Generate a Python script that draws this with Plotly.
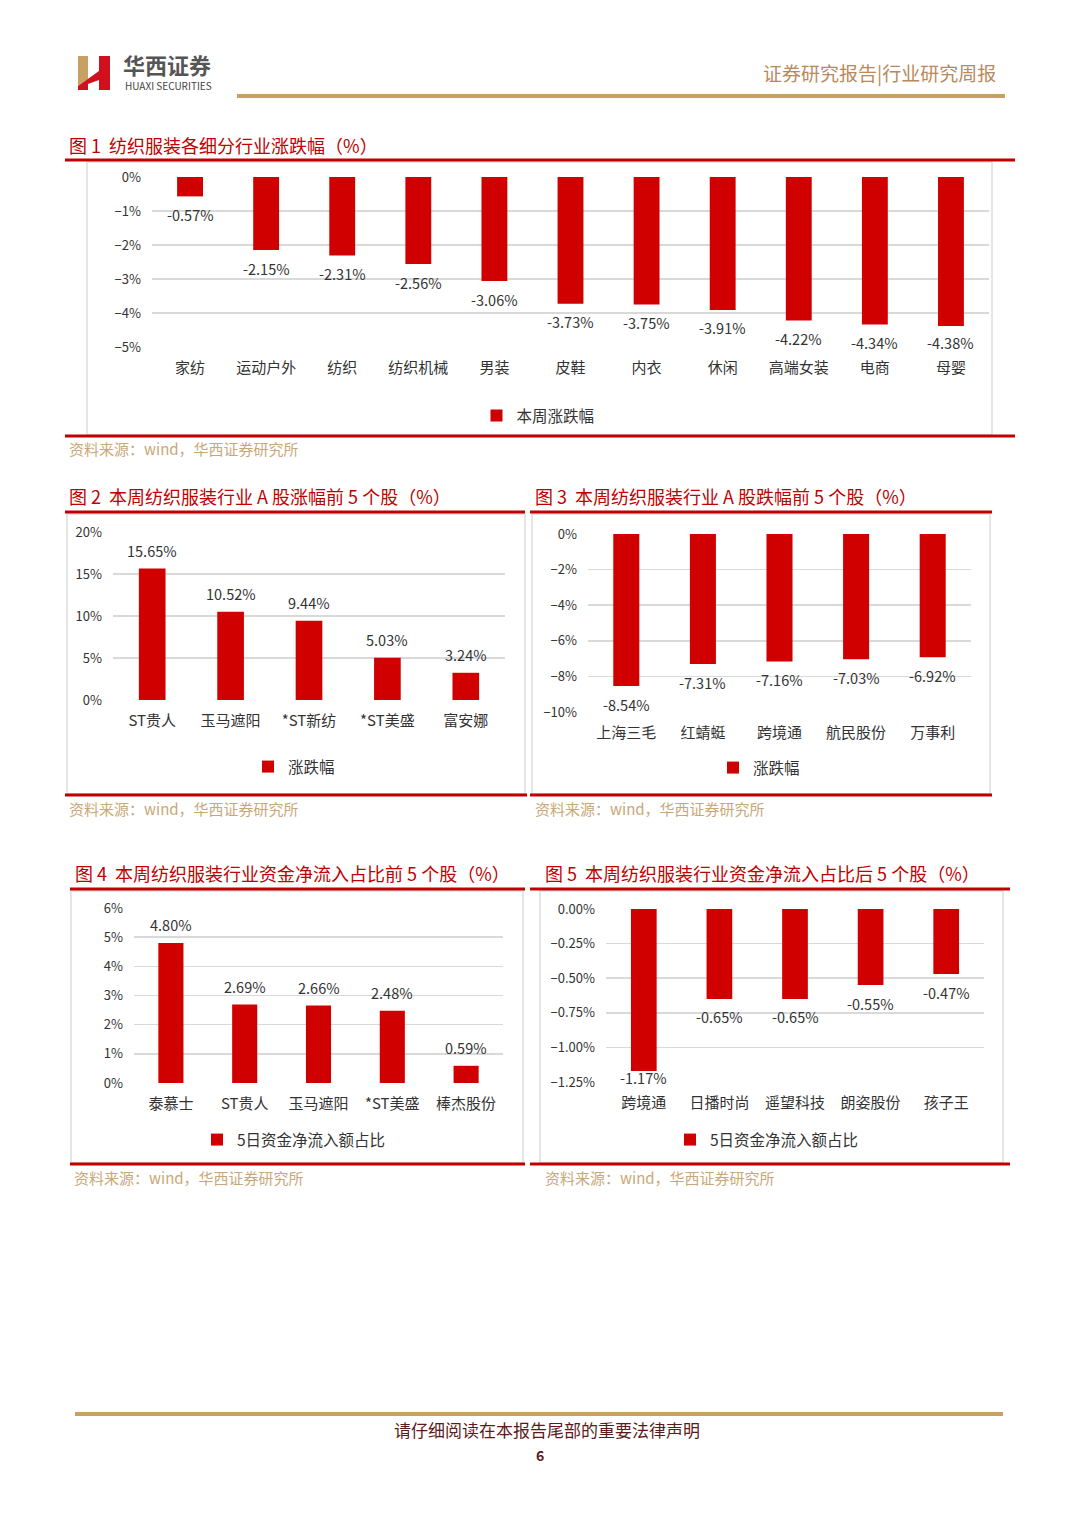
import plotly.graph_objects as go

W, H = 1080, 1527
def X(px): return px / W
def Y(py): return 1 - py / H

# ---------------- data ----------------
c1_cats = ["家纺", "运动户外", "纺织", "纺织机械", "男装", "皮鞋", "内衣", "休闲", "高端女装", "电商", "母婴"]
c1_vals = [-0.57, -2.15, -2.31, -2.56, -3.06, -3.73, -3.75, -3.91, -4.22, -4.34, -4.38]
c1_name = "本周涨跌幅"

c2_cats = ["ST贵人", "玉马遮阳", "*ST新纺", "*ST美盛", "富安娜"]
c2_vals = [15.65, 10.52, 9.44, 5.03, 3.24]
c2_name = "涨跌幅"

c3_cats = ["上海三毛", "红蜻蜓", "跨境通", "航民股份", "万事利"]
c3_vals = [-8.54, -7.31, -7.16, -7.03, -6.92]
c3_name = "涨跌幅"

c4_cats = ["泰慕士", "ST贵人", "玉马遮阳", "*ST美盛", "棒杰股份"]
c4_vals = [4.80, 2.69, 2.66, 2.48, 0.59]
c4_name = "5日资金净流入额占比"

c5_cats = ["跨境通", "日播时尚", "遥望科技", "朗姿股份", "孩子王"]
c5_vals = [-1.17, -0.65, -0.65, -0.55, -0.47]
c5_name = "5日资金净流入额占比"

titles = [
    "图 1  纺织服装各细分行业涨跌幅（%）",
    "图 2  本周纺织服装行业 A 股涨幅前 5 个股（%）",
    "图 3  本周纺织服装行业 A 股跌幅前 5 个股（%）",
    "图 4  本周纺织服装行业资金净流入占比前 5 个股（%）",
    "图 5  本周纺织服装行业资金净流入占比后 5 个股（%）",
]
source_text = "资料来源：wind，华西证券研究所"

FONT = "Noto Sans CJK SC"
BAR = "#D10000"
RED = "#C00000"
GRID = "#D9D9D9"
GOLD = "#C9A063"
SRC = "#C8A878"
TXT = "#333333"

charts = [
    dict(cats=c1_cats, vals=c1_vals, name=c1_name, x=(152, 989), y=(177, 347), rng=[-5, 0], dtick=1, fmt="d", leg=(538, 416)),
    dict(cats=c2_cats, vals=c2_vals, name=c2_name, x=(113, 505), y=(532, 700), rng=[0, 20], dtick=5, fmt="d", leg=(294, 767)),
    dict(cats=c3_cats, vals=c3_vals, name=c3_name, x=(588, 971), y=(534, 712), rng=[-10, 0], dtick=2, fmt="d", leg=(759, 768)),
    dict(cats=c4_cats, vals=c4_vals, name=c4_name, x=(134, 503), y=(908, 1083), rng=[0, 6], dtick=1, fmt="d", leg=(294, 1140)),
    dict(cats=c5_cats, vals=c5_vals, name=c5_name, x=(606, 984), y=(909, 1082), rng=[-1.25, 0], dtick=0.25, fmt=".2f", leg=(767, 1140)),
]

fig = go.Figure()
layout = dict(
    template="none",
    width=W, height=H, margin=dict(l=0, r=0, t=0, b=0, pad=0, autoexpand=False),
    paper_bgcolor="white", plot_bgcolor="white",
    font=dict(family=FONT, color=TXT, size=13),
    showlegend=True,
)

annotations = []

for i, c in enumerate(charts):
    n = i + 1
    xa = "x" if n == 1 else f"x{n}"
    ya = "y" if n == 1 else f"y{n}"
    lg = "legend" if n == 1 else f"legend{n}"
    fig.add_trace(go.Bar(
        x=c["cats"], y=c["vals"], name=c["name"], xaxis=xa, yaxis=ya, legend=lg,
        marker=dict(color=BAR, line=dict(width=0)), width=0.34,
        showlegend=True, hoverinfo="skip",
    ))
    # data labels, anchored at each bar's value on the chart's own axes
    ppu = (c["y"][1] - c["y"][0]) / (c["rng"][1] - c["rng"][0])
    for cat, v in zip(c["cats"], c["vals"]):
        if v >= 0:
            dist = (c["rng"][1] - v) * ppu
        else:
            dist = (v - c["rng"][0]) * ppu
        off = max(6, min(18, dist - 5))
        annotations.append(dict(
            xref=xa, yref=ya, x=cat, y=v, text=f"{v:.2f}%", showarrow=False,
            xanchor="center", yanchor="middle", yshift=(off if v >= 0 else -off),
            font=dict(family=FONT, size=14.5, color=TXT),
        ))
    layout["xaxis" if n == 1 else f"xaxis{n}"] = dict(
        domain=[X(c["x"][0]), X(c["x"][1])], anchor=ya, type="category", automargin=False,
        showgrid=False, showline=False, zeroline=False, ticks="",
        tickfont=dict(size=15, color=TXT), ticklabelstandoff=10, fixedrange=True,
    )
    layout["yaxis" if n == 1 else f"yaxis{n}"] = dict(
        domain=[Y(c["y"][1]), Y(c["y"][0])], anchor=xa, range=c["rng"], dtick=c["dtick"], automargin=False,
        tick0=0, tickformat=c["fmt"], ticksuffix="%", showgrid=True, gridcolor=GRID, gridwidth=1.5,
        zeroline=False, showline=False, ticks="", tickfont=dict(size=13, color=TXT),
        ticklabelstandoff=10, fixedrange=True,
    )
    layout[lg] = dict(
        x=X(c["leg"][0]), y=Y(c["leg"][1]), xanchor="center", yanchor="middle",
        orientation="h", bgcolor="rgba(0,0,0,0)", font=dict(size=15.5, color=TXT),
        itemclick=False, itemdoubleclick=False, itemwidth=30,
    )

shapes = []

def hline(x0, x1, y, color, w):
    shapes.append(dict(type="line", xref="paper", yref="paper", x0=X(x0), x1=X(x1), y0=Y(y), y1=Y(y),
                       line=dict(color=color, width=w)))

def rect(x0, y0, x1, y1, color):
    shapes.append(dict(type="rect", xref="paper", yref="paper", x0=X(x0), x1=X(x1), y0=Y(y1), y1=Y(y0),
                       line=dict(color=color, width=1.5), fillcolor="rgba(0,0,0,0)", layer="below"))

def text(x, y, s, size, color, anchor="left", bold=False):
    annotations.append(dict(xref="paper", yref="paper", x=X(x), y=Y(y), text=(f"<b>{s}</b>" if bold else s),
                            showarrow=False, xanchor=anchor, yanchor="middle",
                            font=dict(family=FONT, size=size, color=color)))

# header
hline(237, 1005, 96, GOLD, 4)
text(998, 73, "证券研究报告|行业研究周报", 19, "#B8895A", anchor="right")
text(121, 64, "华西证券", 22, "#555555", bold=True)
text(123, 86, "HUAXI SECURITIES", 10, "#444444")
# logo
shapes.append(dict(type="path", xref="paper", yref="paper",
                   path=f"M{X(78)},{Y(56)} L{X(88)},{Y(56)} L{X(88)},{Y(79)} L{X(78)},{Y(86)} Z",
                   fillcolor=GOLD, line=dict(width=0)))
shapes.append(dict(type="path", xref="paper", yref="paper",
                   path=f"M{X(78)},{Y(86)} L{X(99)},{Y(71)} L{X(99)},{Y(56)} L{X(110)},{Y(56)} L{X(110)},{Y(90)} "
                        f"L{X(99)},{Y(90)} L{X(99)},{Y(80)} L{X(88)},{Y(84)} L{X(88)},{Y(90)} L{X(78)},{Y(90)} Z",
                   fillcolor="#D0101C", line=dict(width=0)))

# chart frames
frames = [
    dict(title=(67, 145), top=(65, 1015, 160), box=(87, 162, 992, 435), bot=(65, 1015, 436), src=(67, 449)),
    dict(title=(67, 496), top=(65, 525, 512), box=(67, 514, 525, 794), bot=(65, 527, 795), src=(67, 808)),
    dict(title=(533, 496), top=(530, 992, 512), box=(532, 514, 990, 794), bot=(530, 992, 795), src=(533, 808)),
    dict(title=(73, 873), top=(70, 525, 889), box=(71, 891, 523, 1163), bot=(70, 525, 1164), src=(72, 1177)),
    dict(title=(543, 873), top=(530, 1010, 889), box=(540, 891, 1003, 1163), bot=(530, 1010, 1164), src=(543, 1177)),
]
for f, t in zip(frames, titles):
    rect(*f["box"], "#DDDDDD")
    hline(f["top"][0], f["top"][1], f["top"][2], RED, 3)
    hline(f["bot"][0], f["bot"][1], f["bot"][2], RED, 3)
    text(f["title"][0], f["title"][1], t, 18, RED)
    text(f["src"][0], f["src"][1], source_text, 15, SRC)

# footer
hline(75, 1003, 1414, GOLD, 4)
text(547, 1429, "请仔细阅读在本报告尾部的重要法律声明", 17, "#5C1A1A", anchor="center")
text(540, 1455, "6", 14, "#5C1A1A", anchor="center", bold=True)

layout["shapes"] = shapes
layout["annotations"] = annotations
fig.update_layout(**layout)

fig.write_html("out.html", config={"displayModeBar": False, "staticPlot": True},
               post_script="document.documentElement.style.margin='0';document.body.style.margin='0';document.body.style.padding='0';document.body.style.overflow='hidden';")
